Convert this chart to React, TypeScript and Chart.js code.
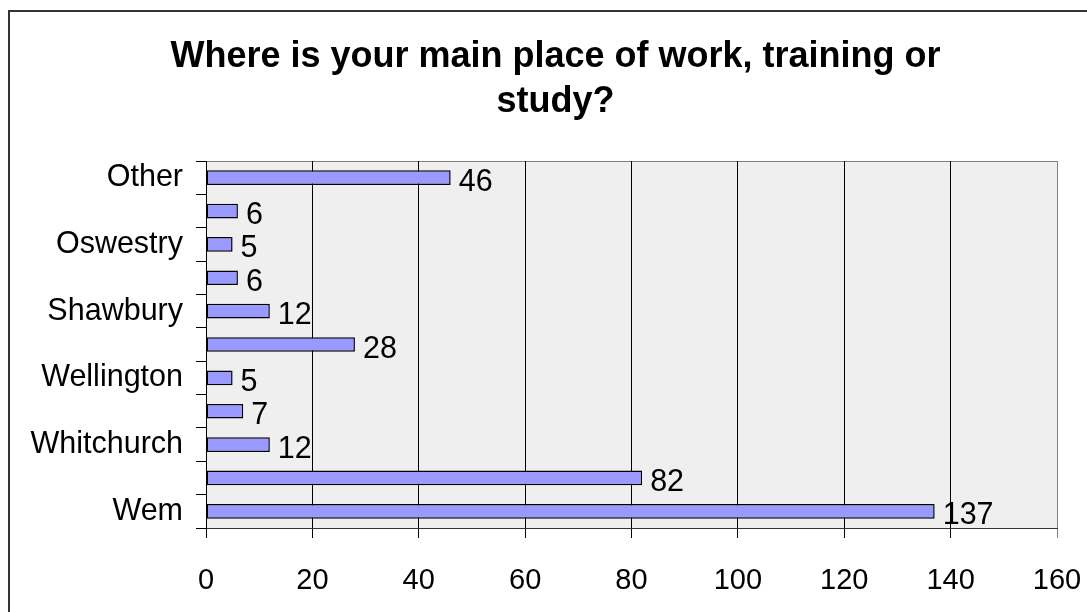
import React, { useEffect, useRef } from 'react';
import { Chart, registerables } from 'chart.js';

Chart.register(...registerables);

const TITLE_LINES = ['Where is your main place of work, training or', 'study?'];
const CATEGORIES = ['Other', '', 'Oswestry', '', 'Shawbury', '', 'Wellington', '', 'Whitchurch', '', 'Wem'];
const VALUES = [46, 6, 5, 6, 12, 28, 5, 7, 12, 82, 137];
const X_MIN = 0;
const X_MAX = 160;
const X_STEP = 20;

const FONT = "Arial, 'Liberation Sans', sans-serif";
const BAR_FILL = '#9999ff';

const decorPlugin = {
  id: 'decor',
  beforeDraw(chart: any) {
    const { ctx, chartArea: a } = chart;
    ctx.save();
    ctx.fillStyle = '#efefef';
    ctx.fillRect(a.left, a.top, a.right - a.left, a.bottom - a.top);
    ctx.strokeStyle = '#808080';
    ctx.lineWidth = 1;
    ctx.beginPath();
    ctx.moveTo(a.left, a.top + 0.5);
    ctx.lineTo(a.right, a.top + 0.5);
    ctx.stroke();
    ctx.restore();
  },
  afterDatasetsDraw(chart: any) {
    const { ctx } = chart;
    const meta = chart.getDatasetMeta(0);
    const data = chart.data.datasets[0].data as number[];
    ctx.save();
    ctx.fillStyle = '#000';
    ctx.font = `30.5px ${FONT}`;
    ctx.textAlign = 'left';
    ctx.textBaseline = 'alphabetic';
    meta.data.forEach((el: any, i: number) => {
      ctx.fillText(String(data[i]), el.x + 8, el.y + 13);
    });
    ctx.restore();
  },
  afterDraw(chart: any) {
    const { ctx } = chart;
    ctx.save();
    // title
    ctx.fillStyle = '#000';
    ctx.font = `bold 36px ${FONT}`;
    ctx.textAlign = 'center';
    ctx.textBaseline = 'alphabetic';
    TITLE_LINES.forEach((line, i) => {
      ctx.fillText(line, 555.5, 67 + i * 45);
    });
    // outer frame
    ctx.strokeStyle = '#333';
    ctx.lineWidth = 2;
    ctx.beginPath();
    ctx.moveTo(9, chart.height);
    ctx.lineTo(9, 11);
    ctx.lineTo(chart.width, 11);
    ctx.stroke();
    ctx.restore();
  },
};

export default function App() {
  const ref = useRef<HTMLCanvasElement>(null);

  useEffect(() => {
    if (!ref.current) return;
    Chart.defaults.color = '#000';
    const chart = new Chart(ref.current, {
      type: 'bar',
      data: {
        labels: CATEGORIES,
        datasets: [
          {
            data: VALUES,
            backgroundColor: BAR_FILL,
            borderColor: '#000',
            borderWidth: 1.5,
            borderSkipped: false,
            barPercentage: 0.44,
            categoryPercentage: 1,
          },
        ],
      },
      options: {
        indexAxis: 'y',
        responsive: false,
        animation: false,
        layout: { padding: { left: 0, right: 30, top: 161, bottom: 0 } },
        plugins: {
          legend: { display: false },
          tooltip: { enabled: false },
          title: { display: false },
        },
        scales: {
          x: {
            type: 'linear',
            min: X_MIN,
            max: X_MAX,
            afterFit: (s: any) => {
              s.height = 84;
              s.paddingLeft = 0;
              s.paddingRight = 0;
            },
            ticks: {
              stepSize: X_STEP,
              color: '#000',
              padding: 26,
              font: { family: FONT, size: 29 },
              maxRotation: 0,
            },
            grid: {
              color: (c: any) => (c.tick && c.tick.value === X_MAX ? '#808080' : '#000'),
              lineWidth: 1,
              tickLength: 10,
              drawOnChartArea: true,
              drawTicks: true,
            },
            border: { display: true, color: '#333', width: 1 },
          },
          y: {
            type: 'category',
            afterFit: (s: any) => {
              s.width = 206;
              s.paddingTop = 0;
              s.paddingBottom = 0;
            },
            ticks: {
              autoSkip: false,
              color: '#000',
              padding: 13,
              font: { family: FONT, size: 30.5 },
            },
            grid: {
              offset: true,
              drawOnChartArea: false,
              drawTicks: true,
              tickLength: 10,
              color: '#000',
            },
            border: { display: true, color: '#000', width: 1 },
          },
        },
      },
      plugins: [decorPlugin],
    });
    return () => chart.destroy();
  }, []);

  return (
    <div style={{ position: 'fixed', left: 0, top: 0, width: 1087, height: 612, background: '#fff' }}>
      <canvas ref={ref} width={1087} height={612} />
    </div>
  );
}
